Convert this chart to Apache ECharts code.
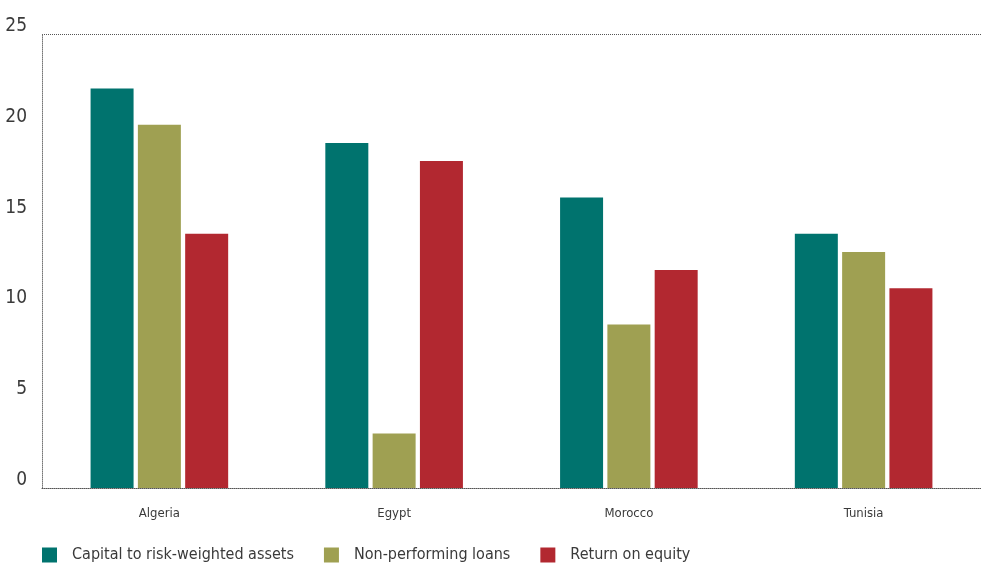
<!DOCTYPE html>
<html>
<head>
<meta charset="utf-8">
<script src="https://cdn.jsdelivr.net/npm/echarts@6/dist/echarts.min.js"></script>
<style>
  html, body { margin: 0; padding: 0; background: #fff; }
  #chart { width: 981px; height: 568px; }
</style>
</head>
<body>
<div id="chart"></div>
<script>
// data
const countries = ['Algeria', 'Egypt', 'Morocco', 'Tunisia'];
const capitalRatio = [22, 19, 16, 14];
const nplRatio = [20, 3, 9, 13];
const roe = [14, 18, 12, 11];
const seriesNames = ['Capital to risk-weighted assets', 'Non-performing loans', 'Return on equity'];

const font = '"Liberation Sans Narrow", "DejaVu Sans Condensed", "Arial Narrow", sans-serif';

const chart = echarts.init(document.getElementById('chart'));

const option = {
  animation: false,
  color: ['#00736e', '#9fa052', '#b22830'],
  grid: { left: 42, right: 0, top: 34, bottom: 80 },
  legend: {
    left: 37,
    bottom: 0,
    itemWidth: 15,
    itemHeight: 15,
    itemGap: 30,
    icon: 'rect',
    textStyle: { fontFamily: font, fontSize: 16, color: '#3a3a3a', padding: [0, 0, 0, 10] },
    data: seriesNames
  },
  xAxis: {
    type: 'category',
    data: countries,
    axisLine: { lineStyle: { color: '#555', type: 'dotted', width: 1 } },
    axisTick: { show: false },
    axisLabel: { fontFamily: font, fontSize: 13, color: '#3a3a3a', margin: 19 }
  },
  yAxis: {
    type: 'value',
    min: 0,
    max: 25,
    interval: 5,
    axisLine: { show: true, lineStyle: { color: '#777', type: 'dotted', width: 1 } },
    axisTick: { show: false },
    axisLabel: {
      fontFamily: font, fontSize: 19, color: '#3a3a3a', margin: 15,
      verticalAlign: 'bottom', lineHeight: 16
    },
    splitLine: {
      show: true,
      lineStyle: {
        type: 'dotted',
        color: ['transparent', 'transparent', 'transparent', 'transparent', 'transparent', '#555']
      }
    }
  },
  series: [
    { name: seriesNames[0], type: 'bar', data: capitalRatio, barWidth: 43, barGap: '10%' },
    { name: seriesNames[1], type: 'bar', data: nplRatio, barWidth: 43, barGap: '10%' },
    { name: seriesNames[2], type: 'bar', data: roe, barWidth: 43, barGap: '10%' }
  ]
};

chart.setOption(option);
</script>
</body>
</html>
